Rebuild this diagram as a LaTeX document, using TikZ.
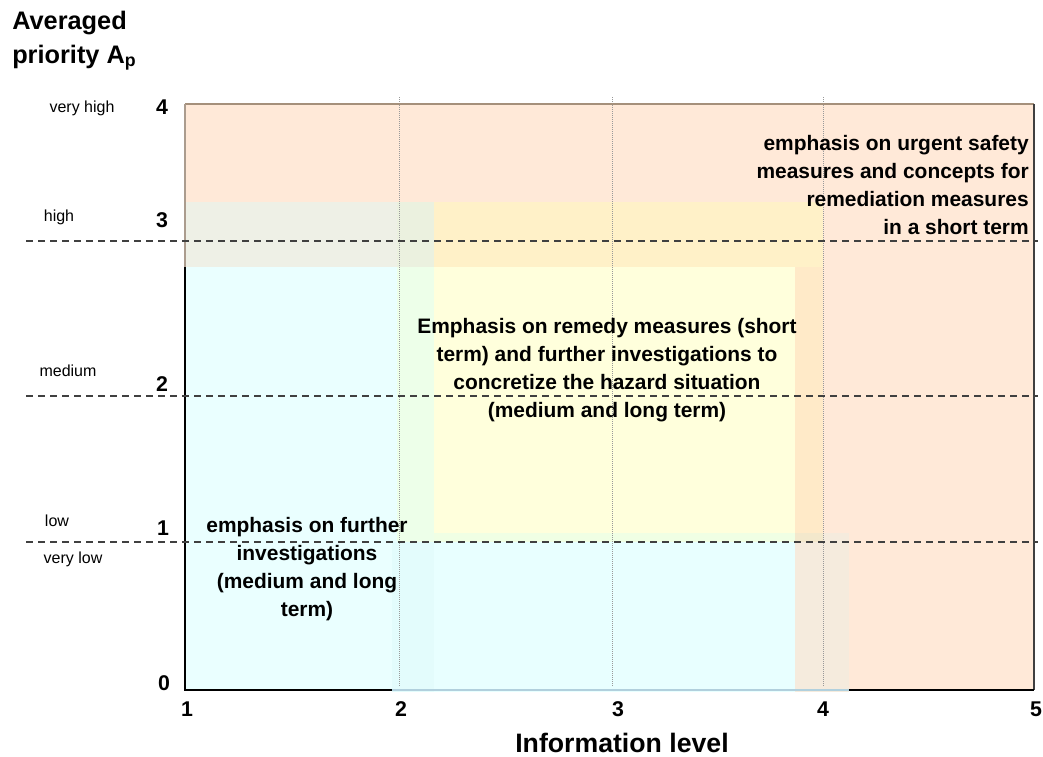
\documentclass[tikz,border=0pt]{standalone}
\usepackage{fontspec}
\setmainfont{Liberation Sans}
\definecolor{orangebase}{HTML}{FFE9D8}
\definecolor{cyanbase}{HTML}{EAFFFF}
\definecolor{greytop}{HTML}{EEF0E6}
\definecolor{yellowbase}{HTML}{FFFFDC}
\definecolor{greenstrip}{HTML}{EDFFE9}
\definecolor{greengrey}{HTML}{EBF1DF}
\definecolor{yelloworange}{HTML}{FFF1C8}
\definecolor{yelloworangeR}{HTML}{FFEAC8}
\definecolor{cyanband}{HTML}{E8FFFF}
\definecolor{cyanbandL}{HTML}{E3FCFC}
\definecolor{beige}{HTML}{F5EBDD}
\definecolor{yellowcyan}{HTML}{F0FFE4}
\definecolor{tan}{HTML}{F3E8CC}
\begin{document}
\begin{tikzpicture}[x=0.75pt,y=-0.75pt,
  dashline/.style={draw=black!75, line width=1pt, dash pattern=on 5.25pt off 3.75pt},
  gridline/.style={draw=black!40, line width=0.6pt, dash pattern=on 0.75pt off 0.75pt},
  ticklbl/.style={font=\bfseries\fontsize{16}{19}\selectfont, inner sep=0pt},
  levellbl/.style={font=\fontsize{12}{14}\selectfont, inner sep=0pt},
  regiontext/.style={font=\bfseries\fontsize{15.7}{21}\selectfont, inner sep=0pt},
  titletext/.style={font=\bfseries\fontsize{19}{22}\selectfont, inner sep=0pt, anchor=base west}]
\useasboundingbox (0,0) rectangle (1043,757);

% colour zones
\fill[orangebase] (185,104) rectangle (1034,690);
\fill[cyanbase] (185,267) rectangle (434,690);
\fill[greytop] (185,202) rectangle (397,267);
\fill[yellowbase] (434,267) rectangle (795,542);
\fill[greenstrip] (397,267) rectangle (434,542);
\fill[greengrey] (397,202) rectangle (434,267);
\fill[yelloworange] (434,202) rectangle (823,267);
\fill[yelloworangeR] (795,267) rectangle (823,542);
% bottom band
\fill[cyanbandL] (392,542) rectangle (434,692);
\fill[cyanband] (434,542) rectangle (795,692);
\fill[beige] (795,542) rectangle (849,692);
\fill[yellowcyan] (434,533) rectangle (795,542);
\fill[tan] (795,533) rectangle (823,542);
\fill[beige] (823,533) rectangle (849,542);

% vertical dotted grid lines
\draw[gridline] (399,97) -- (399,686);
\draw[gridline] (612,97) -- (612,686);
\draw[gridline] (823,97) -- (823,686);

% frame
\draw[line width=1.2pt, color=black!45!brown!60] (185,104) -- (1034,104);
\draw[line width=1.2pt, color=black!75] (1034,104) -- (1034,690);
\draw[line width=1.2pt, color=black!55!brown!50] (185,104) -- (185,267);
\draw[line width=1.2pt, color=black] (185,267) -- (185,690) -- (392,690);
\draw[line width=1.2pt, color=black!40!cyan!35] (392,690) -- (849,690);
\draw[line width=1.2pt, color=black] (849,690) -- (1034,690);

% dashed level lines
\draw[dashline] (26,241) -- (1038,241);
\draw[dashline] (26,396) -- (1038,396);
\draw[dashline] (26,542) -- (1038,542);

% title
\node[titletext] (t1) at (12,29) {Averaged};
\node[titletext] (t2) at (12,63) {priority A\textsubscript{p}};

% level labels
\node[levellbl] (vh) at (82,108) {very high};
\node[levellbl] (hi) at (59,217) {high};
\node[levellbl] (me) at (68,371) {medium};
\node[levellbl] (lo) at (57,521) {low};
\node[levellbl] (vl) at (73,559) {very low};

% y tick labels
\node[ticklbl] (y4) at (162,107) {4};
\node[ticklbl] (y3) at (162,220) {3};
\node[ticklbl] (y2) at (162,384) {2};
\node[ticklbl] (y1) at (163,528) {1};
\node[ticklbl] (y0) at (164,683) {0};

% x tick labels
\node[ticklbl] (x1) at (187,709) {1};
\node[ticklbl] (x2) at (401,709) {2};
\node[ticklbl] (x3) at (618,709) {3};
\node[ticklbl] (x4) at (823,709) {4};
\node[ticklbl] (x5) at (1036,709) {5};

\node[font=\bfseries\fontsize{20}{24}\selectfont, inner sep=0pt] (xl) at (622,743) {Information level};

% region texts
\node[regiontext, align=right, anchor=east] (urgent) at (1029,185)
  {emphasis on urgent safety\\measures and concepts for\\remediation measures\\in a short term};
\node[regiontext, align=center] (remedy) at (607,370)
  {Emphasis on remedy measures (short\\term) and further investigations to\\concretize the hazard situation\\(medium and long term)};
\node[regiontext, align=center] (further) at (307,569)
  {emphasis on further\\investigations\\(medium and long\\term)};
\end{tikzpicture}
\end{document}
